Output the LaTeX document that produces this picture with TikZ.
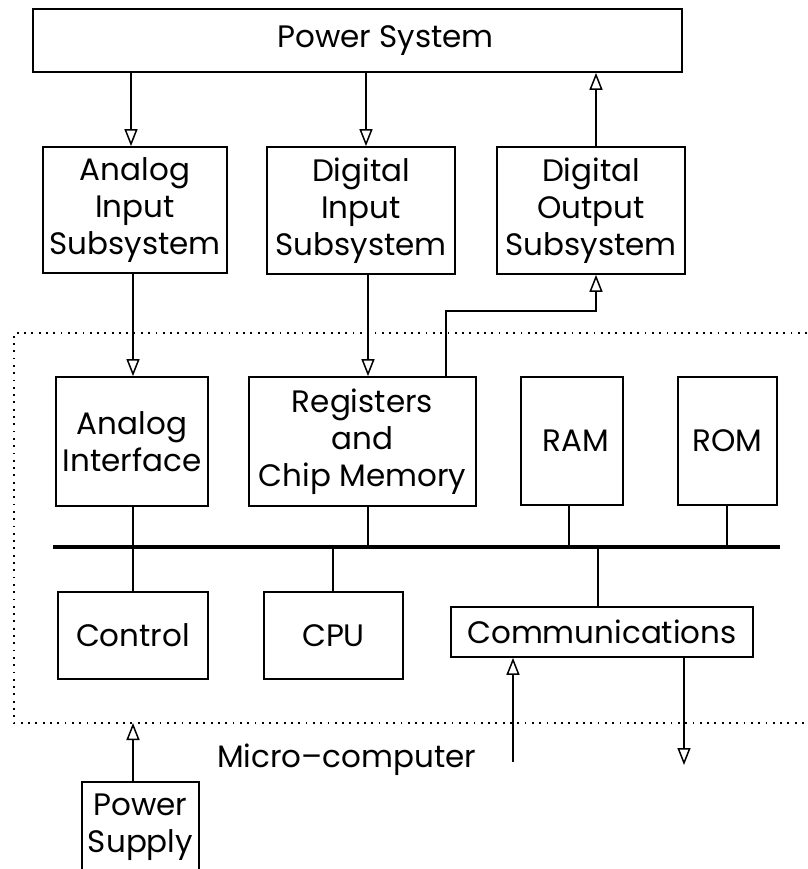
\documentclass[tikz,border=0pt]{standalone}
\usepackage{fontspec}
\setmainfont{Poppins}
\usetikzlibrary{arrows.meta}
\begin{document}
\begin{tikzpicture}[x=1pt,y=-1pt,
  txt/.style={font=\fontsize{31}{37}\selectfont},
  blk/.style={draw, line width=1.7pt, inner sep=0pt, align=center, txt},
  wire/.style={line width=1.7pt},
  arr/.style={line width=1.7pt, -{Triangle[open, length=17pt, width=13pt, line width=1.5pt, fill=white]}},
  bus/.style={line width=3.6pt},
  encl/.style={line width=1.8pt, dash pattern=on 1.8pt off 5.5pt}]
\useasboundingbox (0,0) rectangle (807,869);
\clip (0,0) rectangle (807,869);

% blocks outside the micro-computer
\node[blk, minimum width=649pt, minimum height=63pt] (ps) at (357.5,40.5) {\hspace*{56pt}Power System};
\node[blk, minimum width=184pt, minimum height=126pt] (ais) at (135,210) {Analog\\Input\\Subsystem};
\node[blk, minimum width=188pt, minimum height=127pt] (dis) at (361,210.5) {Digital\\Input\\Subsystem};
\node[blk, minimum width=188pt, minimum height=127pt] (dos) at (591,210.5) {Digital\\Output\\Subsystem};
\node[blk, minimum width=117pt, minimum height=90pt] (psu) at (140.5,827) {Power\\Supply};

% blocks inside the micro-computer
\node[blk, minimum width=152pt, minimum height=129pt] (ai) at (132,441.5) {Analog\\Interface};
\node[blk, minimum width=227pt, minimum height=129pt] (reg) at (362.5,441.5) {Registers\\and\\Chip Memory};
\node[blk, minimum width=102pt, minimum height=128pt] (ram) at (572,441) {\hspace*{8pt}RAM};
\node[blk, minimum width=99pt, minimum height=128pt] (rom) at (727.5,441) {ROM};
\node[blk, minimum width=150pt, minimum height=87pt] (ctrl) at (133,635.5) {Control};
\node[blk, minimum width=139pt, minimum height=87pt] (cpu) at (333.5,635.5) {CPU};
\node[blk, minimum width=302pt, minimum height=50pt] (comm) at (602,632) {Communications};

% micro-computer enclosure (open on the right)
\coordinate (mcTR) at (807,333);
\coordinate (mcTL) at (14,333);
\coordinate (mcBL) at (14,723);
\coordinate (mcBR) at (807,723);
\draw[encl] (mcTR) -- (mcTL) -- (mcBL) -- (mcBR);
\node[txt, anchor=base west, inner sep=0pt] (mclbl) at (217,767) {Micro–computer};

% power system links
\draw[arr] (ps.south -| 131,0) -- (ais.north -| 131,0);
\draw[arr] (ps.south -| 366,0) -- (dis.north -| 366,0);
\draw[arr] (dos.north -| 596,0) -- (ps.south -| 596,0);

% inputs and outputs into the micro-computer
\draw[arr] (ais.south -| 133,0) -- (ai.north -| 133,0);
\draw[arr] (dis.south -| 368,0) -- (reg.north -| 368,0);
\coordinate (bend) at (596,311);
\draw[arr] (reg.north -| 446,0) |- (bend) -- (dos.south -| bend);

% internal bus
\coordinate (busL) at (53,547);
\coordinate (busR) at (780,547);
\draw[bus] (busL) -- (busR);
\draw[wire] (ai.south -| 133,0) -- (ctrl.north -| 133,0);
\draw[wire] (reg.south -| 368,0) -- (busL -| 368,0);
\draw[wire] (ram.south -| 569,0) -- (busL -| 569,0);
\draw[wire] (rom.south -| 727,0) -- (busL -| 727,0);
\draw[wire] (busL -| 333,0) -- (cpu.north -| 333,0);
\draw[wire] (busL -| 598,0) -- (comm.north -| 598,0);

% communications ports
\coordinate (cin) at (513,762);
\coordinate (cout) at (684,765);
\draw[arr] (cin) -- (comm.south -| cin);
\draw[arr] (comm.south -| cout) -- (cout);

% power supply feed
\draw[arr] (psu.north -| 133,0) -- (mcBL -| 133,0);
\end{tikzpicture}
\end{document}
